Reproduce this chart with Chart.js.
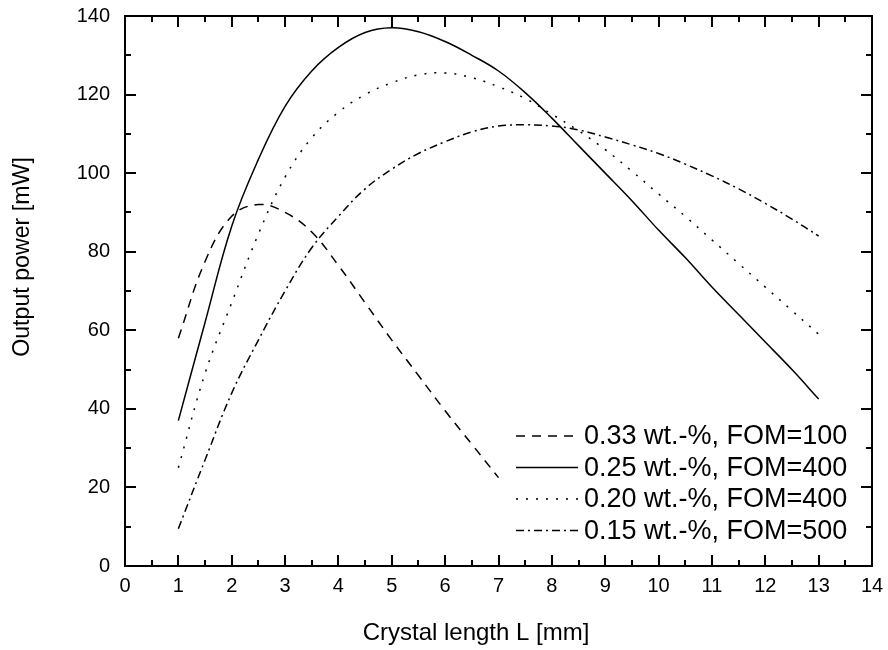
<!DOCTYPE html>
<html lang="en">
<head>
    <meta charset="UTF-8">
    <title>Output power vs crystal length</title>
    <script src="https://cdn.jsdelivr.net/npm/chart.js"></script>
    <style>
        body {
            margin: 0;
            background: #fff;
        }
        #chartContainer {
            width: 888px;
            height: 650px;
        }
    </style>
</head>
<body>
    <div id="chartContainer">
        <canvas id="powerChart"></canvas>
    </div>

    <script>
        // crystal length L [mm]
        const lengthsShort = [1, 1.5, 2, 2.5, 3, 3.5, 4, 4.5, 5, 5.5, 6, 6.5, 7];
        const lengthsLong = [1, 1.5, 2, 2.5, 3, 3.5, 4, 4.5, 5, 5.5, 6, 6.5, 7,
                             7.5, 8, 8.5, 9, 9.5, 10, 10.5, 11, 11.5, 12, 12.5, 13];

        // output power [mW]
        const power033 = [58, 77.5, 89, 92, 90, 85, 76.5, 67, 57.5, 48.5, 39.5, 31, 22.5];
        const power025 = [37, 62, 86.5, 103.5, 117, 126, 132, 135.8, 137, 136, 133.5, 130, 126,
                          120.5, 114, 107, 100, 93, 85.5, 78.5, 71, 64, 57, 50, 42.5];
        const power020 = [25, 49, 67, 84.5, 99, 109, 115.5, 120, 123, 125, 125.5, 124.3, 122,
                          119, 115, 110.8, 106, 100.5, 94.7, 89, 83, 77, 71, 65, 59];
        const power015 = [9.5, 27, 44, 57.5, 70, 81, 89, 96, 101, 105, 108, 110.5, 112,
                          112.3, 112, 111, 109.2, 107.2, 105, 102.3, 99.3, 96, 92.3, 88.3, 84];

        const seriesLabels = ['0.33 wt.-%, FOM=100', '0.25 wt.-%, FOM=400',
                              '0.20 wt.-%, FOM=400', '0.15 wt.-%, FOM=500'];
        const xTitle = 'Crystal length L [mm]';
        const yTitle = 'Output power [mW]';

        const xTicks = [0, 14, 1];      // min, max, step
        const yTicks = [0, 140, 20];

        const FONT = "'Liberation Sans', Arial, sans-serif";

        function points(xs, ys) {
            return xs.map((x, i) => ({ x: x, y: ys[i] }));
        }

        function curve(label, xs, ys, dash) {
            return {
                label: label,
                data: points(xs, ys),
                borderColor: '#000',
                borderWidth: 1.5,
                borderDash: dash,
                pointRadius: 0,
                fill: false,
                tension: 0.4
            };
        }

        // box around the plot with inward ticks on all four sides
        const frameTicks = {
            id: 'frameTicks',
            afterDatasetsDraw(chart) {
                const { ctx, chartArea: a, scales: { x, y } } = chart;
                ctx.save();
                ctx.strokeStyle = '#000';
                ctx.lineWidth = 2;
                ctx.strokeRect(a.left, a.top, a.right - a.left, a.bottom - a.top);
                ctx.beginPath();
                for (let v = xTicks[0]; v <= xTicks[1]; v += xTicks[2] / 2) {
                    const px = Math.round(x.getPixelForValue(v));
                    const len = v % xTicks[2] === 0 ? 11 : 6;
                    ctx.moveTo(px, a.bottom); ctx.lineTo(px, a.bottom - len);
                    ctx.moveTo(px, a.top); ctx.lineTo(px, a.top + len);
                }
                for (let v = yTicks[0]; v <= yTicks[1]; v += yTicks[2] / 2) {
                    const py = Math.round(y.getPixelForValue(v));
                    const len = v % yTicks[2] === 0 ? 11 : 6;
                    ctx.moveTo(a.left, py); ctx.lineTo(a.left + len, py);
                    ctx.moveTo(a.right, py); ctx.lineTo(a.right - len, py);
                }
                ctx.stroke();
                ctx.restore();
            }
        };

        // axis titles, set a little off-centre from the plot box
        const axisTitles = {
            id: 'axisTitles',
            afterDraw(chart) {
                const { ctx, chartArea: a } = chart;
                ctx.save();
                ctx.fillStyle = '#000';
                ctx.textAlign = 'center';
                ctx.textBaseline = 'middle';
                ctx.font = '24px ' + FONT;
                ctx.fillText(xTitle, a.left + 351, a.bottom + 67);
                ctx.translate(23, a.top + 241);
                ctx.rotate(-Math.PI / 2);
                ctx.font = '23.2px ' + FONT;
                ctx.fillText(yTitle, 0, 0);
                ctx.restore();
            }
        };

        // legend in the lower right corner of the plot
        const innerLegend = {
            id: 'innerLegend',
            afterDraw(chart) {
                const { ctx, chartArea: a } = chart;
                ctx.save();
                ctx.font = '27px ' + FONT;
                ctx.fillStyle = '#000';
                ctx.textBaseline = 'middle';
                chart.data.datasets.forEach((ds, i) => {
                    const yy = a.bottom - 130 + i * 31.5;
                    const x0 = a.right - 356;
                    ctx.strokeStyle = '#000';
                    ctx.lineWidth = 1.5;
                    ctx.setLineDash(ds.borderDash);
                    ctx.beginPath();
                    ctx.moveTo(x0, yy);
                    ctx.lineTo(x0 + 62, yy);
                    ctx.stroke();
                    ctx.setLineDash([]);
                    ctx.fillText(ds.label, x0 + 68, yy + 1);
                });
                ctx.restore();
            }
        };

        const ctx = document.getElementById('powerChart').getContext('2d');
        new Chart(ctx, {
            type: 'line',
            data: {
                datasets: [
                    curve(seriesLabels[0], lengthsShort, power033, [9, 7]),
                    curve(seriesLabels[1], lengthsLong, power025, []),
                    curve(seriesLabels[2], lengthsLong, power020, [2, 8]),
                    curve(seriesLabels[3], lengthsLong, power015, [8, 4, 2, 4])
                ]
            },
            options: {
                responsive: true,
                maintainAspectRatio: false,
                animation: false,
                layout: { padding: { top: 16, right: 16, left: 0, bottom: 0 } },
                plugins: {
                    legend: { display: false },
                    tooltip: { enabled: false }
                },
                scales: {
                    x: {
                        type: 'linear',
                        min: xTicks[0],
                        max: xTicks[1],
                        afterFit(scale) {
                            scale.height = 84;
                            scale.paddingLeft = 0;
                            scale.paddingRight = 0;
                        },
                        ticks: {
                            stepSize: xTicks[2],
                            color: '#000',
                            padding: 8,
                            maxRotation: 0,
                            font: { family: FONT, size: 20 }
                        },
                        grid: { display: false, drawTicks: false },
                        border: { display: false }
                    },
                    y: {
                        min: yTicks[0],
                        max: yTicks[1],
                        afterFit(scale) {
                            scale.width = 125;
                            scale.paddingTop = 0;
                            scale.paddingBottom = 0;
                        },
                        ticks: {
                            stepSize: yTicks[2],
                            color: '#000',
                            padding: 15,
                            font: { family: FONT, size: 20 }
                        },
                        grid: { display: false, drawTicks: false },
                        border: { display: false }
                    }
                }
            },
            plugins: [frameTicks, axisTitles, innerLegend]
        });
    </script>
</body>
</html>
